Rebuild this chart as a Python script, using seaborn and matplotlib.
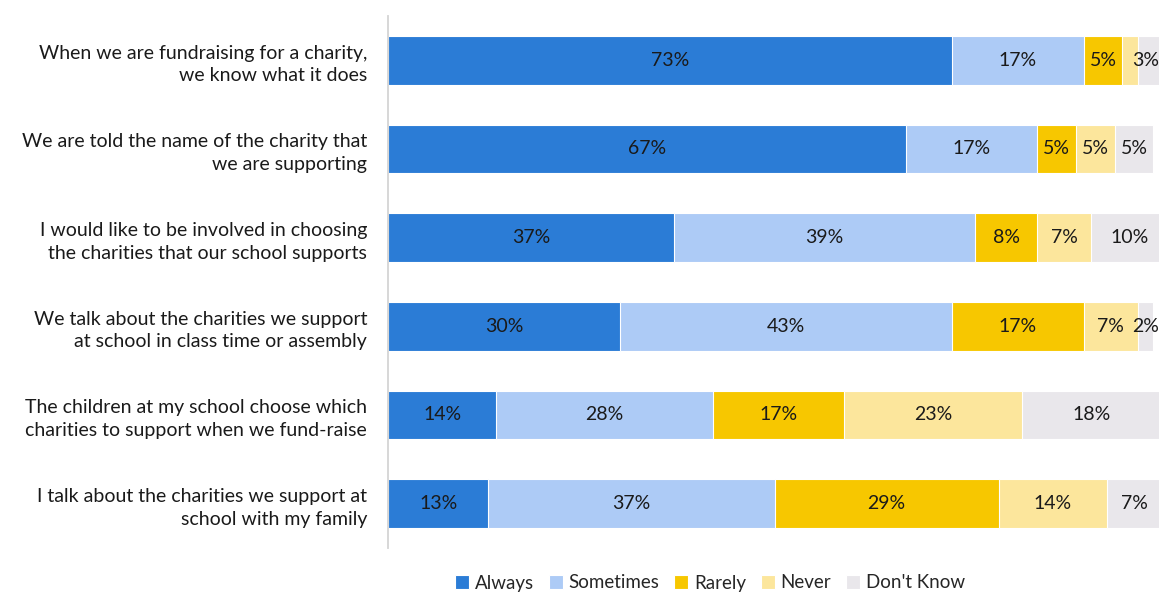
import numpy as np
import pandas as pd
import seaborn as sns
import matplotlib.pyplot as plt

sns.set_theme(style="white")
plt.rcParams["font.family"] = ["Lato", "DejaVu Sans"]

# Survey statements (two-line labels) and response shares in percent
statements = [
    "When we are fundraising for a charity,\nwe know what it does",
    "We are told the name of the charity that\nwe are supporting",
    "I would like to be involved in choosing\nthe charities that our school supports",
    "We talk about the charities we support\nat school in class time or assembly",
    "The children at my school choose which\ncharities to support when we fund-raise",
    "I talk about the charities we support at\nschool with my family",
]
responses = ["Always", "Sometimes", "Rarely", "Never", "Don't Know"]
always = [73, 67, 37, 30, 14, 13]
sometimes = [17, 17, 39, 43, 28, 37]
rarely = [5, 5, 8, 17, 17, 29]
never = [2, 5, 7, 7, 23, 14]
dont_know = [3, 5, 10, 2, 18, 7]

colors = ["#2B7CD6", "#ADCBF6", "#F7C700", "#FCE69C", "#E9E7EB"]

values = np.array([always, sometimes, rarely, never, dont_know], dtype=float)
cum = values.cumsum(axis=0)

fig = plt.figure(figsize=(11.59, 5.93), dpi=100)
ax = fig.add_axes([388 / 1159, 1 - 548 / 593, 773 / 1159, 532 / 593])

# Stacked bars: draw cumulative totals from the outermost segment inward
for i in range(len(responses) - 1, -1, -1):
    df = pd.DataFrame({"statement": statements, "value": cum[i]})
    sns.barplot(data=df, x="value", y="statement", orient="h", color=colors[i],
                width=0.55, edgecolor="white", linewidth=0.8, saturation=1,
                ax=ax, label=responses[i])

# Value labels centred in each segment (the tiny 2% "Never" slice stays unlabelled)
for i in range(len(responses)):
    for j in range(len(statements)):
        v = values[i, j]
        if v < 2 or (v == 2 and i != len(responses) - 1):
            continue
        x = cum[i, j] - v / 2
        ha = "center"
        if cum[i, j] >= 99.9 and v <= 3:
            x, ha = 99.7, "right"
        ax.text(x, j, f"{int(v)}%", ha=ha, va="center",
                fontsize=14, color="#1a1a1a")

ax.set_xlim(0, 100)
ax.set_ylim(len(statements) - 0.5, -0.5)
ax.set_xlabel("")
ax.set_ylabel("")
ax.xaxis.set_visible(False)
for s in ["top", "right", "bottom"]:
    ax.spines[s].set_visible(False)
ax.spines["left"].set_color("#D4D4D4")
ax.spines["left"].set_linewidth(1.3)

ax.tick_params(axis="y", which="major", length=0, pad=15, labelsize=14,
               labelcolor="#1a1a1a")
for lbl in ax.get_yticklabels():
    lbl.set_linespacing(1.4)
    lbl.set_ha("right")
ax.set_yticks(np.arange(-0.5, len(statements), 1), minor=True)
ax.tick_params(axis="y", which="minor", length=5, width=1.3, color="#D4D4D4")

handles, labels = ax.get_legend_handles_labels()
order = [labels.index(r) for r in responses]
leg = fig.legend([handles[k] for k in order], [labels[k] for k in order],
                 loc="center", bbox_to_anchor=(710 / 1159, 1 - 583 / 593),
                 ncol=5, frameon=False, fontsize=13.5, handlelength=0.75,
                 handleheight=0.75, handletextpad=0.3, columnspacing=0.8,
                 borderaxespad=0)
if ax.get_legend() is not None:
    ax.get_legend().remove()

fig.savefig("out.png", dpi=100)
